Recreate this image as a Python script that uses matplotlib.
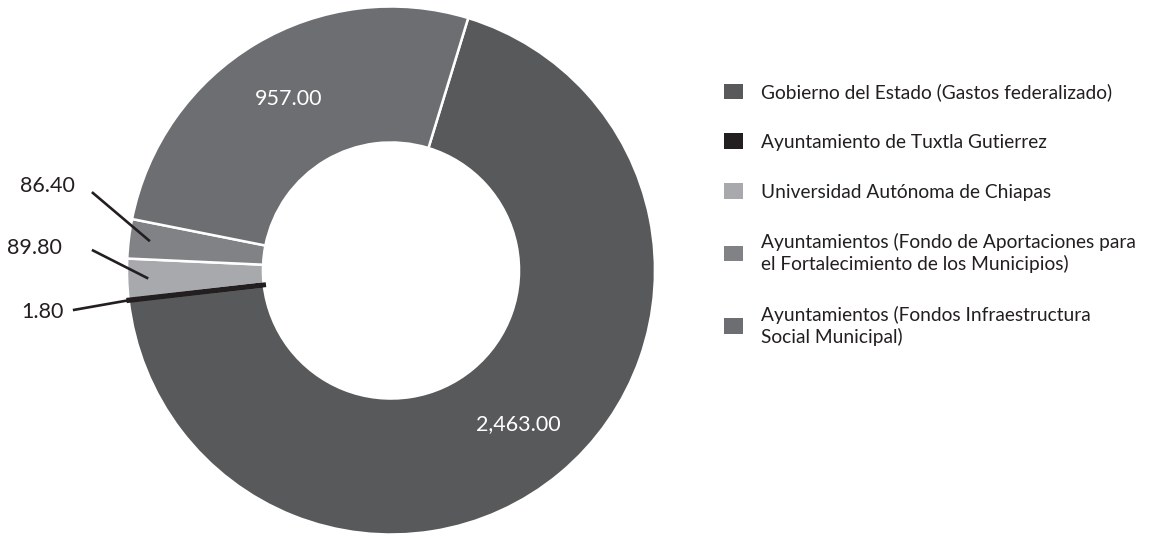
import numpy as np
import matplotlib
matplotlib.use("Agg")
import matplotlib.pyplot as plt
from matplotlib.patches import Patch

plt.rcParams['font.family'] = ['Lato', 'DejaVu Sans']

# Datos (millones de pesos)
categorias = [
    "Gobierno del Estado (Gastos federalizado)",
    "Ayuntamiento de Tuxtla Gutierrez",
    "Universidad Autónoma de Chiapas",
    "Ayuntamientos (Fondo de Aportaciones para\nel Fortalecimiento de los Municipios)",
    "Ayuntamientos (Fondos Infraestructura\nSocial Municipal)",
]
valores = [2463.00, 1.80, 89.80, 86.40, 957.00]
colores = ["#58595b", "#231f20", "#a7a9ac", "#808285", "#6d6e71"]

# etiquetas dentro del anillo (índices) y fuera con línea guía
dentro = [0, 4]
fuera = {3: (-1.30, 0.32), 2: (-1.35, 0.085), 1: (-1.32, -0.157)}
inicio_linea = {3: (-1.133, 0.297), 2: (-1.133, 0.078), 1: (-1.205, -0.150)}
radio_linea = {3: 0.92, 2: 0.92, 1: 1.0}

W, H = 1149, 537
cx, cy, R = 391, 270.5, 264.0

fig = plt.figure(figsize=(W / 100, H / 100), dpi=100)
ax = fig.add_axes([0, 0, 1, 1])

wedges, _ = ax.pie(valores, colors=colores, startangle=73, counterclock=False,
                   radius=1.0,
                   wedgeprops=dict(width=0.515, edgecolor="white", linewidth=1.8))
# la rebanada mínima se dibuja con borde grueso para que se vea
wedges[1].set_edgecolor(colores[1])
wedges[1].set_linewidth(3.2)
wedges[1].set_zorder(5)

ax.set_xlim(-cx / R, (W - cx) / R)
ax.set_ylim(-(H - cy) / R, cy / R)
ax.set_aspect("auto")
ax.axis("off")

def angulo_medio(w):
    return np.deg2rad((w.theta1 + w.theta2) / 2)

for i in dentro:
    a = angulo_medio(wedges[i])
    ax.text(0.755 * np.cos(a), 0.755 * np.sin(a), f"{valores[i]:,.2f}",
            color="white", fontsize=15.5, ha="center", va="center")

for i, (tx, ty) in fuera.items():
    a = angulo_medio(wedges[i])
    r = radio_linea[i]
    sx, sy = inicio_linea[i]
    ax.plot([sx, r * np.cos(a)], [sy, r * np.sin(a)], color="#231f20",
            lw=1.9, solid_capstyle="butt", zorder=6)
    ax.text(tx, ty, f"{valores[i]:,.2f}", color="#231f20", fontsize=15.5,
            ha="center", va="center")

handles = [Patch(facecolor=c, edgecolor="none") for c in colores]
leg = fig.legend(handles, categorias, loc="upper left",
                 bbox_to_anchor=(724 / W, 1 - 83 / H), frameon=False,
                 fontsize=13.8, labelcolor="#231f20", handlelength=1.0,
                 handleheight=0.85, handletextpad=0.95, labelspacing=1.7,
                 borderpad=0, borderaxespad=0)
for t in leg.get_texts():
    t.set_linespacing(1.25)

fig.savefig("out.png", dpi=100, facecolor="white")
